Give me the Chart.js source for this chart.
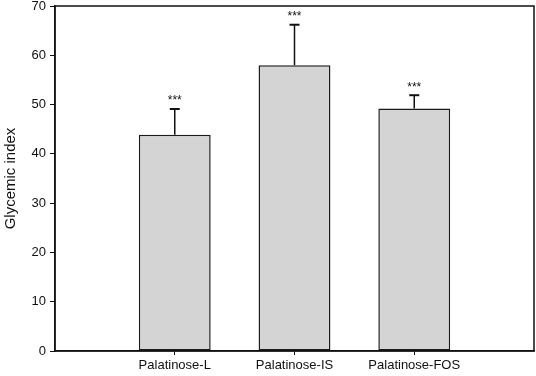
<!DOCTYPE html>
<html>
<head>
<meta charset="utf-8">
<script src="https://cdn.jsdelivr.net/npm/chart.js@4"></script>
<style>
  html, body { margin: 0; padding: 0; background: #fff; }
  #wrap { width: 536px; height: 376px; }
</style>
</head>
<body>
<div id="wrap"><canvas id="c" width="536" height="376"></canvas></div>
<script>
// data
const groups = ["Palatinose-L", "Palatinose-IS", "Palatinose-FOS"];
const positions = [1, 2, 3];
const means = [43.9, 58.0, 49.2];
const errUpper = [49.1, 66.2, 51.9];
const stars = ["***", "***", "***"];
const yTicks = [0, 10, 20, 30, 40, 50, 60, 70];

const FONT = "'Liberation Sans', Arial, Helvetica, sans-serif";

// error bars + significance stars + frame
const extras = {
  id: "extras",
  afterDatasetsDraw(chart) {
    const { ctx, scales: { x, y }, chartArea: a } = chart;
    ctx.save();
    ctx.strokeStyle = "#111";
    ctx.fillStyle = "#111";
    positions.forEach((p, i) => {
      const px = x.getPixelForValue(p);
      const top = y.getPixelForValue(errUpper[i]);
      const base = y.getPixelForValue(means[i]);
      ctx.lineWidth = 1.5;
      ctx.beginPath();
      ctx.moveTo(px, base);
      ctx.lineTo(px, top);
      ctx.stroke();
      ctx.lineWidth = 2;
      ctx.beginPath();
      ctx.moveTo(px - 5, top);
      ctx.lineTo(px + 5, top);
      ctx.stroke();
      ctx.font = "12px " + FONT;
      ctx.textAlign = "center";
      ctx.textBaseline = "middle";
      ctx.fillText(stars[i], px, top - 8);
    });
    // box round the plot
    ctx.lineWidth = 1.5;
    ctx.strokeRect(a.left, a.top, a.right - a.left, a.bottom - a.top);
    ctx.restore();
  }
};

new Chart(document.getElementById("c"), {
  type: "bar",
  data: {
    datasets: [{
      data: positions.map((p, i) => ({ x: p, y: means[i] })),
      backgroundColor: "#d4d4d4",
      borderColor: "#1a1a1a",
      borderWidth: 1.5,
      borderSkipped: false,
      categoryPercentage: 1,
      barPercentage: 0.6
    }]
  },
  options: {
    responsive: false,
    animation: false,
    layout: { padding: { top: 6, right: 2, left: 2, bottom: 0 } },
    plugins: { legend: { display: false }, tooltip: { enabled: false } },
    scales: {
      x: {
        type: "linear",
        min: 0,
        max: 4,
        offset: false,
        afterBuildTicks: s => { s.ticks = positions.map(v => ({ value: v })); },
        afterFit: s => { s.height = 25; },
        grid: { offset: false, drawOnChartArea: false, drawTicks: true, tickLength: 4, color: "#111", lineWidth: 1 },
        border: { display: true, color: "#111", width: 1.5 },
        ticks: {
          color: "#111",
          padding: 3,
          font: { family: FONT, size: 13 },
          callback: v => groups[positions.indexOf(v)] || ""
        }
      },
      y: {
        min: 0,
        max: 70,
        afterBuildTicks: s => { s.ticks = yTicks.map(v => ({ value: v })); },
        afterFit: s => { s.width = 53; s.paddingTop = 0; },
        grid: { drawOnChartArea: false, drawTicks: true, tickLength: 5, color: "#111", lineWidth: 1 },
        border: { display: true, color: "#111", width: 1.5 },
        ticks: { color: "#111", padding: 4, font: { family: FONT, size: 13 } },
        title: { display: true, text: "Glycemic index", color: "#111", padding: 0, font: { family: FONT, size: 15 } }
      }
    }
  },
  plugins: [extras]
});
</script>
</body>
</html>
